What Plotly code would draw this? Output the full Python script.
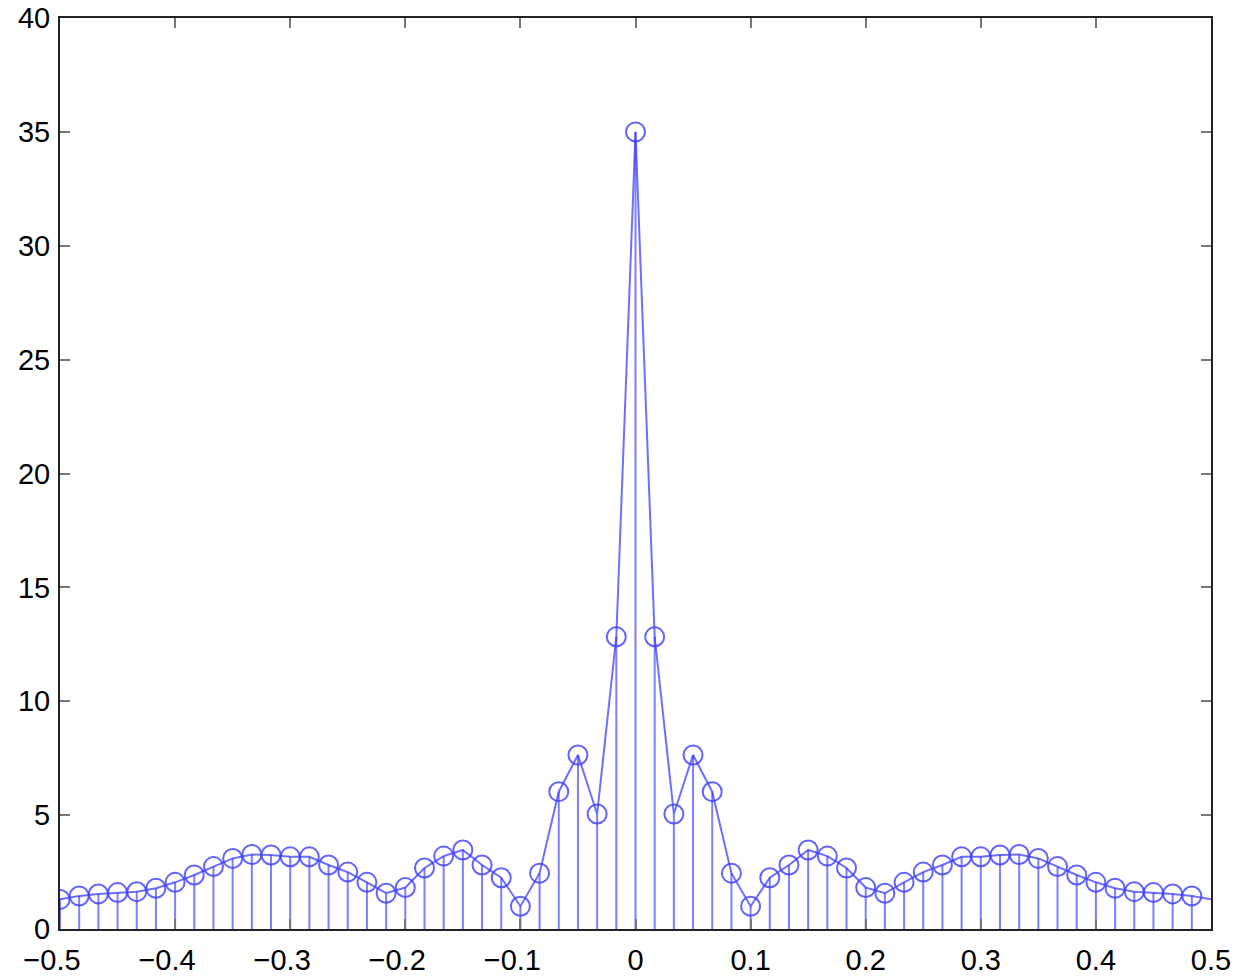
import numpy as np
import plotly.graph_objects as go

# frequency bins k/60, k = -30..29
k_index = list(range(-30, 30))
freq = [k / 60 for k in k_index]

# magnitude values (k = -30 .. 29)
magnitude = [
    1.30, 1.45, 1.54, 1.60, 1.64, 1.79, 2.05, 2.37, 2.74, 3.10,
    3.27, 3.25, 3.17, 3.17, 2.81, 2.50, 2.05, 1.57, 1.82, 2.68,
    3.20, 3.47, 2.81, 2.25, 1.00, 2.45, 6.03, 7.64, 5.05, 12.83,
    35.00,
    12.83, 5.05, 7.64, 6.03, 2.45, 1.00, 2.25, 2.81, 3.47, 3.20,
    2.68, 1.82, 1.57, 2.05, 2.50, 2.81, 3.17, 3.17, 3.25, 3.27,
    3.10, 2.74, 2.37, 2.05, 1.79, 1.64, 1.60, 1.54, 1.45,
]
# the connecting line wraps to +0.5 with the value at -0.5
line_x = freq + [0.5]
line_y = magnitude + [magnitude[0]]

x_ticks = [-0.5, -0.4, -0.3, -0.2, -0.1, 0, 0.1, 0.2, 0.3, 0.4, 0.5]
x_tick_text = ["\u22120.5\u2007", "\u22120.4\u2007", "\u22120.3\u2007", "\u22120.2\u2007",
               "\u22120.1\u2007", "0", "0.1", "0.2", "0.3", "0.4", "0.5"]
y_ticks = [0, 5, 10, 15, 20, 25, 30, 35, 40]

stem_x, stem_y = [], []
for xv, yv in zip(freq, magnitude):
    stem_x += [xv, xv, None]
    stem_y += [0, yv, None]

fig = go.Figure()
fig.add_trace(go.Scatter(x=stem_x, y=stem_y, mode="lines",
                         line=dict(color="rgba(40,40,255,0.6)", width=2),
                         hoverinfo="skip", showlegend=False))
fig.add_trace(go.Scatter(x=line_x, y=line_y, mode="lines",
                         line=dict(color="rgba(50,50,255,0.7)", width=2),
                         showlegend=False))
fig.add_trace(go.Scatter(x=freq, y=magnitude, mode="markers",
                         marker=dict(symbol="circle-open", size=19,
                                     color="rgba(60,60,255,0.8)",
                                     line=dict(width=2)),
                         showlegend=False))

axis_common = dict(showgrid=False, zeroline=False, showline=True, mirror="ticks",
                   linecolor="#222", linewidth=2, ticks="inside", ticklen=10,
                   tickwidth=2, tickcolor="#777", automargin=False,
                   tickfont=dict(family="Liberation Sans, Arial, sans-serif",
                                 size=29, color="black"))

fig.update_layout(
    width=1238, height=977,
    margin=dict(l=60, r=27, t=18, b=48),
    paper_bgcolor="white", plot_bgcolor="white",
    xaxis=dict(range=[-0.5, 0.5], tickvals=x_ticks, ticktext=x_tick_text,
               ticklabelstandoff=4, **axis_common),
    yaxis=dict(range=[0, 40], tickvals=y_ticks, ticklabelstandoff=2, **axis_common),
)

fig.write_html("out.html")
